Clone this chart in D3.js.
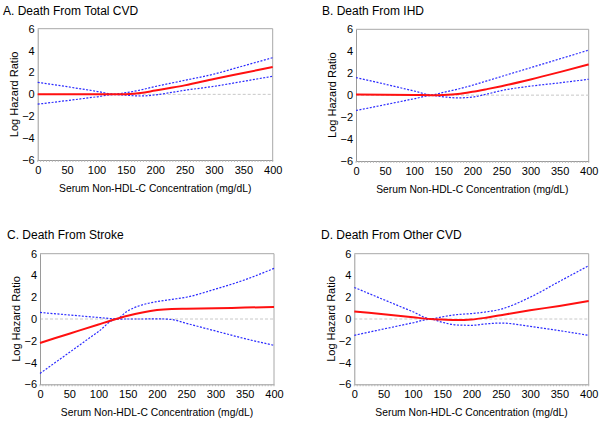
<!DOCTYPE html>
<html><head><meta charset="utf-8">
<script src="https://cdn.jsdelivr.net/npm/d3@7"></script>
<style>body{margin:0;background:#fff}svg{display:block}text{font-family:"Liberation Sans",Arial,sans-serif;fill:#000}</style>
</head><body>
<svg id="c" width="600" height="424"></svg>
<script>
// ---- data ----
const xGrid = [0, 50, 100, 130, 150, 175, 200, 225, 250, 300, 350, 400];
const xTicks = [0, 50, 100, 150, 200, 250, 300, 350, 400];
const yTicks = [-6, -4, -2, 0, 2, 4, 6];
const titles = ["A. Death From Total CVD", "B. Death From IHD", "C. Death From Stroke", "D. Death From Other CVD"];
const xTitle = "Serum Non-HDL-C Concentration (mg/dL)";
const yTitle = "Log Hazard Ratio";

const estA = [0, 0, 0, 0, 0.02, 0.12, 0.35, 0.58, 0.82, 1.4, 1.95, 2.5];
const upA  = [1.1, 0.7, 0.28, 0.03, 0.15, 0.4, 0.72, 1.0, 1.28, 1.85, 2.6, 3.35];
const loA  = [-0.9, -0.57, -0.23, -0.03, -0.08, -0.15, -0.05, 0.15, 0.37, 0.73, 1.19, 1.65];

const estB = [0.05, 0.03, 0.02, 0, 0.02, 0.1, 0.3, 0.55, 0.82, 1.43, 2.1, 2.8];
const upB  = [1.6, 1.0, 0.38, 0.03, 0.25, 0.55, 0.9, 1.3, 1.7, 2.5, 3.3, 4.1];
const loB  = [-1.4, -0.87, -0.33, -0.03, -0.15, -0.25, -0.18, 0.1, 0.42, 0.82, 1.12, 1.45];

const estC = [-2.2, -1.35, -0.5, 0, 0.3, 0.6, 0.82, 0.92, 0.95, 0.98, 1.05, 1.1];
const upC  = [0.6, 0.37, 0.14, 0.02, 0.75, 1.3, 1.6, 1.8, 2.0, 2.75, 3.6, 4.65];
const loC  = [-5.0, -3.08, -1.15, -0.02, 0, 0, 0.02, -0.05, -0.4, -1.1, -1.8, -2.42];

const estD = [0.7, 0.43, 0.16, 0, -0.05, -0.1, -0.05, 0.12, 0.35, 0.8, 1.2, 1.65];
const upD  = [2.9, 1.78, 0.67, 0.02, 0.2, 0.4, 0.5, 0.65, 0.9, 2.0, 3.45, 4.9];
const loD  = [-1.5, -0.92, -0.35, -0.02, -0.3, -0.55, -0.58, -0.45, -0.37, -0.68, -1.07, -1.5];

const panelsData = [
  {est: estA, up: upA, lo: loA},
  {est: estB, up: upB, lo: loB},
  {est: estC, up: upC, lo: loC},
  {est: estD, up: upD, lo: loD}
];

// ---- layout ----
const boxes = [
  {l: 37.7, r: 272.7, t: 28.7, b: 160, tx: 3, ty: 15, yl: 18},
  {l: 356, r: 588.7, t: 29.3, b: 161, tx: 322, ty: 15, yl: 336},
  {l: 40, r: 274, t: 253.7, b: 384.3, tx: 7, ty: 239, yl: 20},
  {l: 354.3, r: 588.7, t: 253.7, b: 384.3, tx: 321, ty: 239, yl: 335}
];

const svg = d3.select("#c");
const grey = "#9a9a9a";

panelsData.forEach((pd, i) => {
  const bx = boxes[i];
  const x = d3.scaleLinear().domain([0, 400]).range([bx.l, bx.r]);
  const y = d3.scaleLinear().domain([-6, 6]).range([bx.b, bx.t]);
  const g = svg.append("g");

  // title
  g.append("text").attr("x", bx.tx).attr("y", bx.ty).attr("font-size", 12).text(titles[i]);

  // frame top/right
  g.append("path").attr("d", `M${bx.l},${bx.t}H${bx.r}V${bx.b}`).attr("fill", "none").attr("stroke", "#a8a8a8").attr("stroke-width", 1);

  // zero reference line
  g.append("line").attr("x1", x(0)).attr("x2", x(400)).attr("y1", y(0)).attr("y2", y(0))
    .attr("stroke", "#c8c8c8").attr("stroke-width", 1).attr("stroke-dasharray", "3,2");

  // bottom axis
  const xa = g.append("g").attr("transform", `translate(0,${bx.b})`)
    .call(d3.axisBottom(x).tickValues(xTicks).tickSize(0).tickPadding(6));
  xa.select(".domain").attr("stroke", grey);
  xa.selectAll("text").attr("font-size", 11).attr("font-family", "Liberation Sans, Arial, sans-serif").attr("dy", "0.71em");
  // minor ticks
  g.append("g").selectAll("line").data(d3.range(0, 401, 5)).join("line")
    .attr("x1", d => x(d)).attr("x2", d => x(d)).attr("y1", bx.b).attr("y2", bx.b + 2)
    .attr("stroke", "#b0b0b0").attr("stroke-width", 0.8);

  // left axis
  const ya = g.append("g").attr("transform", `translate(${bx.l},0)`)
    .call(d3.axisLeft(y).tickValues(yTicks).tickSize(0).tickPadding(3));
  ya.select(".domain").attr("stroke", grey);
  ya.selectAll("text").attr("font-size", 11).attr("font-family", "Liberation Sans, Arial, sans-serif");

  // axis titles
  g.append("text").attr("x", (bx.l + bx.r) / 2).attr("y", bx.b + 32).attr("font-size", 10.3)
    .attr("text-anchor", "middle").text(xTitle);
  g.append("text").attr("transform", `translate(${bx.yl},${(bx.t + bx.b) / 2}) rotate(-90)`)
    .attr("font-size", 11).attr("text-anchor", "middle").text(yTitle);

  const line = d3.line().x((d, j) => x(xGrid[j])).y(d => y(d)).curve(d3.curveMonotoneX);

  [pd.up, pd.lo].forEach(s => {
    g.append("path").attr("d", line(s)).attr("fill", "none").attr("stroke", "#2b2bff")
      .attr("stroke-width", 1.2).attr("stroke-dasharray", "2,1.5");
  });
  g.append("path").attr("d", line(pd.est)).attr("fill", "none").attr("stroke", "#ff1010")
    .attr("stroke-width", 2);
});
</script>
</body></html>
